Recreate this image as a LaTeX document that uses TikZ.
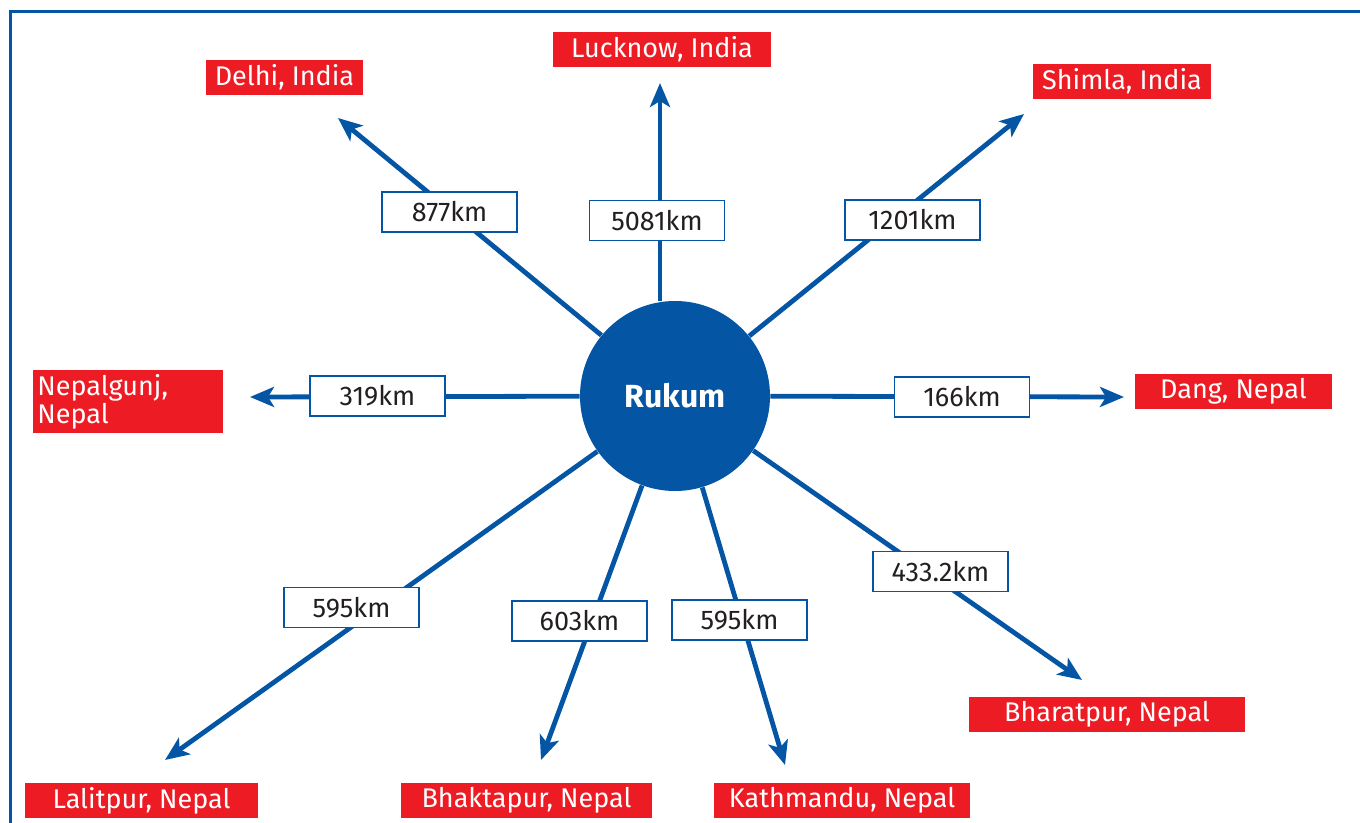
\documentclass[tikz,border=0pt]{standalone}
\usepackage{fontspec}
\setmainfont{Fira Sans}
\usetikzlibrary{arrows.meta}
\definecolor{rukumblue}{HTML}{0455A4}
\definecolor{cityred}{HTML}{ED1C24}
\definecolor{inkgray}{HTML}{231F20}

\begin{document}
\begin{tikzpicture}[x=0.5pt, y=-0.5pt,
    city/.style={fill=cityred, text=white, font=\fontsize{13.5}{16}\selectfont,
                 minimum height=17.5pt, inner sep=0pt},
    dist/.style={draw=rukumblue, line width=0.6pt, fill=white, text=inkgray,
                 font=\fontsize{13.5}{16}\selectfont, minimum width=67.5pt,
                 minimum height=20pt, inner sep=0pt},
    link/.style={draw=rukumblue, line width=2.4pt,
                 -{Stealth[length=12pt, width=10pt, inset=3pt]}}]
  \useasboundingbox (0,0) rectangle (1360,823);
  % frame
  \draw[rukumblue, line width=1.5pt] (10,12) rectangle (1400,860);

  % centre
  \node[circle, fill=rukumblue, minimum size=95pt, inner sep=0pt, text=white,
        font=\bfseries\fontsize{16}{18}\selectfont] (rukum) at (675,396) {Rukum};

  % arrow tips
  \coordinate (tdelhi) at (338,118);
  \coordinate (tlucknow) at (660,83);
  \coordinate (tshimla) at (1024,114);
  \coordinate (tnepalgunj) at (250,397);
  \coordinate (tdang) at (1124,397);
  \coordinate (tbharatpur) at (1082,680);
  \coordinate (tlalitpur) at (165,760);
  \coordinate (tbhaktapur) at (541,760);
  \coordinate (tkathmandu) at (785,765);

  \foreach \t in {tdelhi, tshimla, tnepalgunj, tdang,
                  tbharatpur, tlalitpur, tbhaktapur, tkathmandu}
    \draw[link] (rukum) -- (\t);
  \draw[link] (rukum.north -| tlucknow) -- (tlucknow);

  % distances
  \node[dist] (ddelhi) at (449.5,212) {877km};
  \node[dist] (dlucknow) at (657,220.5) {5081km};
  \node[dist] (dshimla) at (912.5,220) {1201km};
  \node[dist] (dnepalgunj) at (377.5,396) {319km};
  \node[dist] (ddang) at (962,397) {166km};
  \node[dist] (dbharatpur) at (940.5,571.5) {433.2km};
  \node[dist] (dlalitpur) at (351.5,607.5) {595km};
  \node[dist] (dbhaktapur) at (579.5,621) {603km};
  \node[dist] (dkathmandu) at (739.5,620) {595km};

  % places
  \node[city, minimum width=78.5pt] (delhi) at (284.5,77.5) {Delhi, India};
  \node[city, minimum width=109pt] (lucknow) at (662,49.5) {Lucknow, India};
  \node[city, minimum width=89pt] (shimla) at (1122,81.5) {Shimla, India};
  \node[city, text width=91pt, minimum height=31.5pt, align=left,
        inner xsep=2pt, anchor=west, font=\fontsize{13.5}{14}\selectfont]
        (nepalgunj) at (33,401.5) {Nepalgunj,\\Nepal};
  \node[city, minimum width=98.5pt] (dang) at (1233.5,391.5) {Dang, Nepal};
  \node[city, minimum width=138pt] (bharatpur) at (1107,714) {Bharatpur, Nepal};
  \node[city, minimum width=116.5pt] (lalitpur) at (141.5,800.5) {Lalitpur, Nepal};
  \node[city, minimum width=125.5pt] (bhaktapur) at (526.5,800.5) {Bhaktapur, Nepal};
  \node[city, minimum width=128pt] (kathmandu) at (842,800.5) {Kathmandu, Nepal};
\end{tikzpicture}
\end{document}
